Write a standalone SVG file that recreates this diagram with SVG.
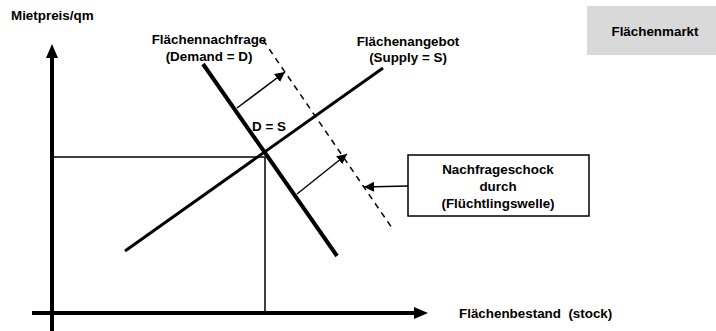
<svg xmlns="http://www.w3.org/2000/svg" width="716" height="331" viewBox="0 0 716 331">
<style>
text{font-family:"Liberation Sans",Arial,sans-serif;font-weight:bold;font-size:13.4px;fill:#000;white-space:pre}
.c{text-anchor:middle}
.thin{stroke:#000;stroke-width:1.5;fill:none}
</style>
<defs>
<marker id="ah" viewBox="0 0 10 10" refX="10" refY="5" markerWidth="10" markerHeight="10" markerUnits="userSpaceOnUse" orient="auto"><path d="M0,0L10,5L0,10z" fill="#000"/></marker>
</defs>
<rect width="716" height="331" fill="#fff"/>
<g id="title"><rect x="587" y="6" width="129" height="49" fill="#d9d9d9"/><text class="c" x="655" y="36">Flächenmarkt</text></g>
<g id="axes">
<line x1="52" y1="331" x2="52" y2="56" stroke="#000" stroke-width="4"/>
<path d="M52,44L58,58L46,58z" fill="#000"/>
<line x1="32" y1="313" x2="416" y2="313" stroke="#000" stroke-width="4"/>
<path d="M428,313L414,307L414,319z" fill="#000"/>
<text x="11" y="20">Mietpreis/qm</text>
<text x="459" y="318" xml:space="preserve">Flächenbestand  (stock)</text>
</g>
<g id="guides">
<line class="thin" x1="52" y1="157" x2="265" y2="157"/>
<line class="thin" x1="265" y1="157" x2="265" y2="312"/>
</g>
<g id="supply">
<line x1="125" y1="251" x2="383" y2="68" stroke="#000" stroke-width="3"/>
<text class="c" x="408" y="46">Flächenangebot</text>
<text class="c" x="408" y="62">(Supply = S)</text>
</g>
<g id="demand">
<line x1="203" y1="64" x2="337" y2="256" stroke="#000" stroke-width="4"/>
<text class="c" x="209" y="44">Flächennachfrage</text>
<text class="c" x="209" y="61">(Demand = D)</text>
</g>
<g id="equilibrium"><text x="252" y="131">D = S</text></g>
<g id="demand2">
<line x1="263" y1="40" x2="392" y2="228" stroke="#000" stroke-width="1.5" stroke-dasharray="6,5"/>
</g>
<g id="shock">
<rect x="408" y="155" width="181" height="61" fill="#fff" stroke="#000" stroke-width="1.5"/>
<text class="c" x="498" y="174">Nachfrageschock</text>
<text class="c" x="498" y="191">durch</text>
<text class="c" x="498" y="208">(Flüchtlingswelle)</text>
</g>
<g id="connectors">
<line class="thin" x1="237" y1="108" x2="285" y2="72" marker-end="url(#ah)"/>
<line class="thin" x1="297" y1="194" x2="347" y2="154" marker-end="url(#ah)"/>
<line class="thin" x1="408" y1="186" x2="364" y2="187" marker-end="url(#ah)"/>
</g>
</svg>
